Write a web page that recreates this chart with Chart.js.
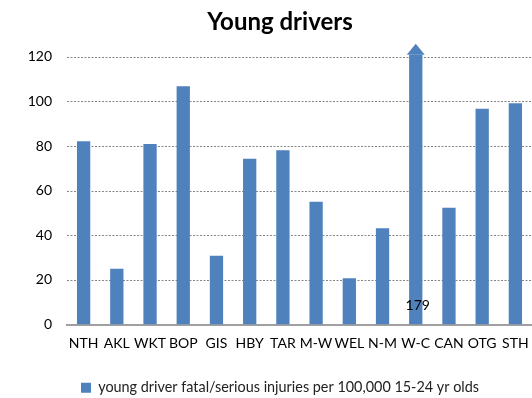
<!DOCTYPE html>
<html>
<head>
<meta charset="utf-8">
<script src="https://cdn.jsdelivr.net/npm/chart.js@4/dist/chart.umd.min.js"></script>
<style>
  html, body { margin: 0; padding: 0; background: #fff; overflow: hidden; }
  #wrap { width: 560px; height: 398px; }
</style>
</head>
<body>
<div id="wrap"><canvas id="youngChart" width="560" height="398"></canvas></div>
<script>
// Regions
const regioes = ["NTH", "AKL", "WKT", "BOP", "GIS", "HBY", "TAR", "M-W", "WEL", "N-M", "W-C", "CAN", "OTG", "STH"];
// young driver fatal/serious injuries per 100,000 15-24 yr olds
const taxas = [82.2, 25.0, 80.9, 106.8, 30.9, 74.3, 78.1, 55.1, 20.8, 43.2, 179, 52.4, 96.7, 99.2];
// y axis
const yMin = 0;
const yMax = 120;
const yStep = 20;

const azul = "#4f81bd";
const fonte = "Lato, 'Liberation Sans', sans-serif";

// Linhas pontilhadas nos ticks do eixo y
const gradePlugin = {
  id: "grade",
  beforeDatasetsDraw(chart) {
    const ctx = chart.ctx;
    const area = chart.chartArea;
    const y = chart.scales.y;
    ctx.save();
    ctx.strokeStyle = "#868686";
    ctx.lineWidth = 1;
    ctx.setLineDash([2, 1.5]);
    y.ticks.forEach(t => {
      if (t.value === yMin) return;
      const py = Math.round(y.getPixelForValue(t.value)) + 0.5;
      ctx.beginPath();
      ctx.moveTo(area.left, py);
      ctx.lineTo(area.right, py);
      ctx.stroke();
    });
    ctx.restore();
  }
};

// Seta em cima das barras que passam do topo + valor escrito embaixo
const setaPlugin = {
  id: "seta",
  afterDatasetsDraw(chart) {
    const ctx = chart.ctx;
    const area = chart.chartArea;
    const meta = chart.getDatasetMeta(0);
    const y = chart.scales.y;
    meta.data.forEach((bar, i) => {
      const v = taxas[i];
      if (v <= yMax) return;
      const x = bar.x;
      const base = area.top - 2;
      ctx.save();
      ctx.fillStyle = azul;
      ctx.beginPath();
      ctx.moveTo(x - 9, base);
      ctx.lineTo(x + 9, base);
      ctx.lineTo(x, base - 11);
      ctx.closePath();
      ctx.fill();
      // valor real
      ctx.fillStyle = "#000";
      ctx.font = "14px " + fonte;
      ctx.textAlign = "center";
      ctx.textBaseline = "middle";
      ctx.fillText(String(v), x + 2, y.getPixelForValue(0) - 19);
      ctx.restore();
    });
  }
};

const ctx = document.getElementById("youngChart").getContext("2d");
window.youngChart = new Chart(ctx, {
  type: "bar",
  data: {
    labels: regioes,
    datasets: [{
      label: "young driver fatal/serious injuries per 100,000 15-24 yr olds",
      data: taxas,
      backgroundColor: azul,
      borderWidth: 0,
      categoryPercentage: 0.8,
      barPercentage: 0.5,
      clip: { left: 0, top: 2, right: 0, bottom: 0 }
    }]
  },
  options: {
    responsive: false,
    animation: false,
    layout: { padding: { top: 0, left: 0, right: 0, bottom: -7 } },
    plugins: {
      title: {
        display: true,
        text: "Young drivers",
        color: "#000",
        font: { family: fonte, size: 24, weight: "bold" },
        padding: { top: 8, bottom: 20 }
      },
      legend: {
        position: "bottom",
        labels: {
          color: "#222",
          font: { family: fonte, size: 14.4 },
          boxWidth: 10,
          boxHeight: 10,
          padding: 2
        }
      },
      tooltip: { enabled: false }
    },
    scales: {
      x: {
        grid: { display: false, drawTicks: false },
        border: { display: true, color: "#a0a0a0", width: 2 },
        ticks: { color: "#000", font: { family: fonte, size: 14 }, padding: 10, maxRotation: 0, autoSkip: false },
        afterFit: s => { s.height = 54; }
      },
      y: {
        min: yMin,
        max: yMax,
        grid: { display: false, drawTicks: false },
        border: { display: false },
        ticks: { stepSize: yStep, color: "#000", font: { family: fonte, size: 14 }, padding: 15 },
        afterFit: s => { s.width = 67; }
      },
      // espaço à direita (so pra centralizar titulo e legenda)
      dir: {
        type: "linear",
        position: "right",
        display: true,
        grid: { display: false, drawTicks: false },
        border: { display: false },
        ticks: { display: false },
        afterFit: s => { s.width = 28; }
      }
    }
  },
  plugins: [gradePlugin, setaPlugin]
});
</script>
</body>
</html>
